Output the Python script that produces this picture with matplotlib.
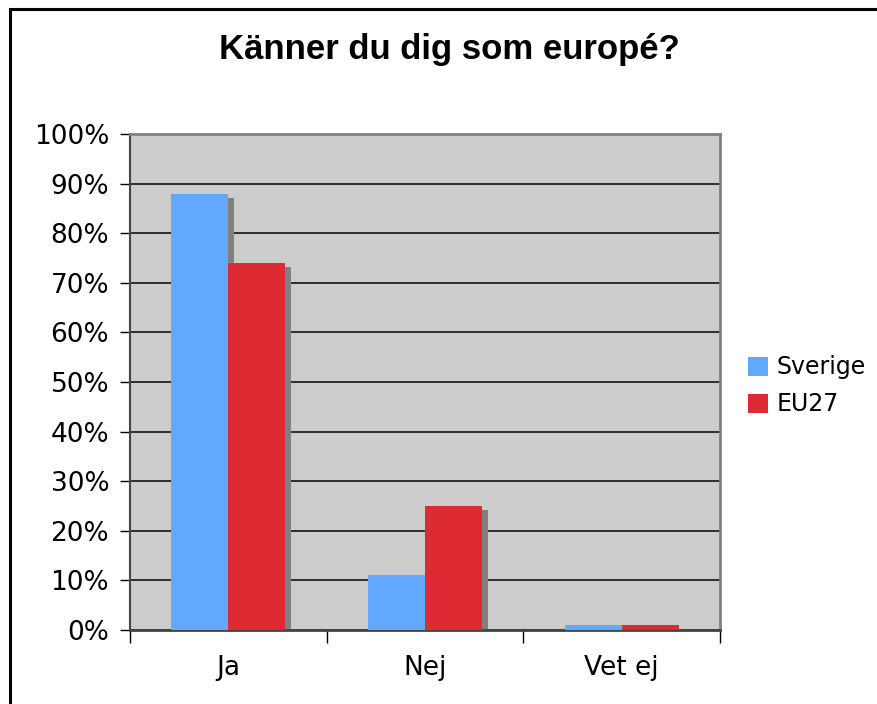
import matplotlib.pyplot as plt
import numpy as np
import matplotlib.patches as patches

categories = ['Ja', 'Nej', 'Vet ej']
series = ['Sverige', 'EU27']
sverige = [0.88, 0.11, 0.01]
eu27 = [0.74, 0.25, 0.01]
colors = ['#62A8FF', '#DE2B33']

W, H = 877, 704
fig = plt.figure(figsize=(W / 100, H / 100), dpi=100)

# outer frame (runs off the right and bottom edge)
fig.patches.append(patches.Rectangle((9.5 / W, -0.1), 2, 1 - 8.5 / H + 0.1,
                                     transform=fig.transFigure, fill=False,
                                     edgecolor='black', linewidth=2.2))

ax = fig.add_axes([130 / W, 1 - 630 / H, 590 / W, 496 / H])
ax.set_facecolor('#CCCCCC')
ax.set_xlim(0, 3)
ax.set_ylim(0, 1)

x = np.arange(len(categories)) + 0.5
bw = 0.29
# shadow offsets in data units
dx = 6 / 590 * 3
dy = 4 / 496
offsets = [-bw / 2, bw / 2]
for i, vals in enumerate([sverige, eu27]):
    ax.bar(x + offsets[i] + dx, np.array(vals) - dy, width=bw, color='#808080', zorder=2)
for i, vals in enumerate([sverige, eu27]):
    ax.bar(x + offsets[i], vals, width=bw, color=colors[i], label=series[i], zorder=3)

ax.set_yticks(np.arange(0, 1.01, 0.1))
ax.set_yticklabels([f'{int(round(v * 100))}%' for v in np.arange(0, 1.01, 0.1)],
                   fontsize=19)
ax.yaxis.grid(True, color='#222222', linewidth=1.3, zorder=1)
ax.set_axisbelow(True)

ax.set_xticks([0, 1, 2, 3])
ax.set_xticklabels([])
ax.set_xticks(x, minor=True)
ax.set_xticklabels(categories, minor=True, fontsize=19)
ax.tick_params(axis='x', which='minor', length=0, pad=18)
ax.tick_params(axis='x', which='major', length=9, width=1, color='black', direction='out')
ax.tick_params(axis='y', length=7, width=1, color='black', direction='out', pad=8)

for s in ['top', 'right']:
    ax.spines[s].set_color('#808080')
    ax.spines[s].set_linewidth(2)
ax.spines['left'].set_color('#444444')
ax.spines['bottom'].set_color('#444444')
ax.spines['left'].set_linewidth(1.5)
ax.spines['bottom'].set_linewidth(2)

fig.text(449 / W, 1 - 50 / H, 'Känner du dig som europé?', fontsize=25,
         fontweight='bold', family='Liberation Sans', ha='center', va='center')

leg = ax.legend(loc='center left', bbox_to_anchor=(1.032, 0.492), frameon=False,
                fontsize=17, handlelength=0.85, handleheight=0.85,
                handletextpad=0.35, labelspacing=0.55, borderaxespad=0)

fig.savefig('out.png', dpi=100)
